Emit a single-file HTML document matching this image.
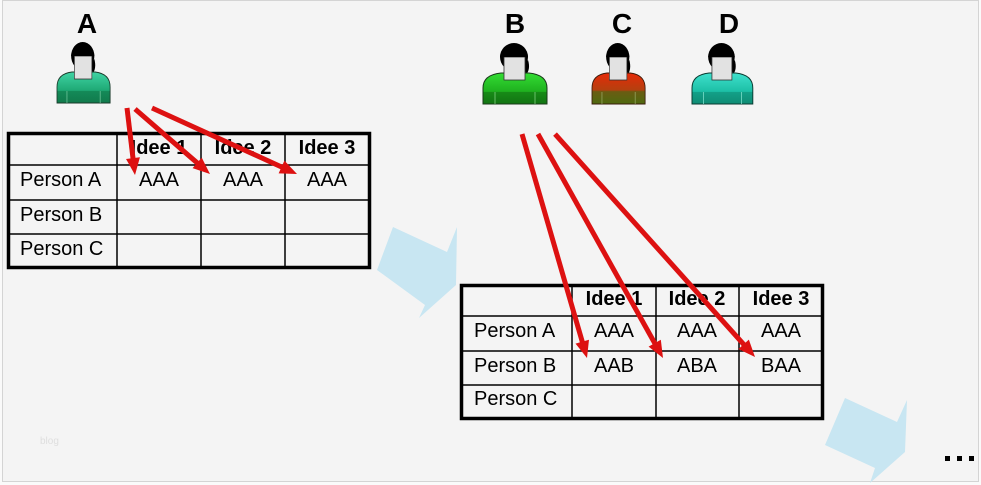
<!DOCTYPE html>
<html><head><meta charset="utf-8"><style>
html,body{margin:0;padding:0;background:#f4f4f4;}
svg{display:block;}
text{font-family:"Liberation Sans",Arial,sans-serif;}
</style></head><body>
<svg width="981" height="485" viewBox="0 0 981 485" xmlns="http://www.w3.org/2000/svg">
<defs>
  <linearGradient id="gA" x1="0" y1="0" x2="0" y2="1">
    <stop offset="0" stop-color="#40d4a4"/><stop offset="0.6" stop-color="#1ea874"/>
    <stop offset="0.62" stop-color="#148a58"/><stop offset="1" stop-color="#117a4c"/>
  </linearGradient>
  <linearGradient id="gB" x1="0" y1="0" x2="0" y2="1">
    <stop offset="0" stop-color="#33dd33"/><stop offset="0.6" stop-color="#1fb01f"/>
    <stop offset="0.62" stop-color="#178a17"/><stop offset="1" stop-color="#127412"/>
  </linearGradient>
  <linearGradient id="gC" x1="0" y1="0" x2="0" y2="1">
    <stop offset="0" stop-color="#e62a08"/><stop offset="0.55" stop-color="#b4400f"/>
    <stop offset="0.6" stop-color="#6a5c12"/><stop offset="1" stop-color="#4e6a10"/>
  </linearGradient>
  <linearGradient id="gD" x1="0" y1="0" x2="0" y2="1">
    <stop offset="0" stop-color="#3fe0cc"/><stop offset="0.6" stop-color="#1cbfa6"/>
    <stop offset="0.62" stop-color="#13a088"/><stop offset="1" stop-color="#0f8c74"/>
  </linearGradient>
</defs>

<rect x="0" y="0" width="981" height="485" fill="#fafafa"/>
<rect x="2.5" y="0.5" width="976" height="481" fill="#f4f4f4" stroke="#d4d4d4" stroke-width="1"/>

<!-- Letters -->
<g font-weight="bold" font-size="28" text-anchor="middle" fill="#000">
  <text x="87" y="33">A</text>
  <text x="515" y="33">B</text>
  <text x="622" y="33">C</text>
  <text x="729" y="33">D</text>
</g>

<!-- Person icons: local origin = body top-left, width 64 -->
<g id="pA" transform="translate(57,71) scale(0.83,1)">
  <path d="M45,-12 C47,-6 46,0 43,2 L40,-6 Z" fill="#000"/>
  <circle cx="31" cy="-15" r="14" fill="#000"/>
  <path d="M0,32 V16 C0,6 8,2 18,1 H46 C56,2 64,6 64,16 V32 Z" fill="url(#gA)" stroke="#1a3a2a" stroke-width="1"/>
  <line x1="12" y1="20" x2="12" y2="32" stroke="#7fd0a8" stroke-width="0.8"/>
  <line x1="52" y1="20" x2="52" y2="32" stroke="#7fd0a8" stroke-width="0.8"/>
  <rect x="21" y="-15" width="21" height="23" fill="#e2e2e2" stroke="#333" stroke-width="0.8"/>
  <path d="M17,-15 C18,-28 44,-28 45,-15 Z" fill="#000"/>
</g>
<g transform="translate(483,72) scale(1,1)">
  <path d="M45,-12 C47,-6 46,0 43,2 L40,-6 Z" fill="#000"/>
  <circle cx="31" cy="-15" r="14" fill="#000"/>
  <path d="M0,32 V16 C0,6 8,2 18,1 H46 C56,2 64,6 64,16 V32 Z" fill="url(#gB)" stroke="#1a3a1a" stroke-width="1"/>
  <line x1="12" y1="20" x2="12" y2="32" stroke="#7fd07f" stroke-width="0.8"/>
  <line x1="52" y1="20" x2="52" y2="32" stroke="#7fd07f" stroke-width="0.8"/>
  <rect x="21" y="-15" width="21" height="23" fill="#e2e2e2" stroke="#333" stroke-width="0.8"/>
  <path d="M17,-15 C18,-28 44,-28 45,-15 Z" fill="#000"/>
</g>
<g transform="translate(592,72) scale(0.83,1)">
  <path d="M45,-12 C47,-6 46,0 43,2 L40,-6 Z" fill="#000"/>
  <circle cx="31" cy="-15" r="14" fill="#000"/>
  <path d="M0,32 V16 C0,6 8,2 18,1 H46 C56,2 64,6 64,16 V32 Z" fill="url(#gC)" stroke="#3a1a0a" stroke-width="1"/>
  <line x1="12" y1="20" x2="12" y2="32" stroke="#a0b070" stroke-width="0.8"/>
  <line x1="52" y1="20" x2="52" y2="32" stroke="#a0b070" stroke-width="0.8"/>
  <rect x="21" y="-15" width="21" height="23" fill="#e2e2e2" stroke="#333" stroke-width="0.8"/>
  <path d="M17,-15 C18,-28 44,-28 45,-15 Z" fill="#000"/>
</g>
<g transform="translate(692,72) scale(0.95,1)">
  <path d="M45,-12 C47,-6 46,0 43,2 L40,-6 Z" fill="#000"/>
  <circle cx="31" cy="-15" r="14" fill="#000"/>
  <path d="M0,32 V16 C0,6 8,2 18,1 H46 C56,2 64,6 64,16 V32 Z" fill="url(#gD)" stroke="#0a3a30" stroke-width="1"/>
  <line x1="12" y1="20" x2="12" y2="32" stroke="#80e0cc" stroke-width="0.8"/>
  <line x1="52" y1="20" x2="52" y2="32" stroke="#80e0cc" stroke-width="0.8"/>
  <rect x="21" y="-15" width="21" height="23" fill="#e2e2e2" stroke="#333" stroke-width="0.8"/>
  <path d="M17,-15 C18,-28 44,-28 45,-15 Z" fill="#000"/>
</g>

<!-- Blue arrows -->
<polygon points="393,227 447,252 457,227 456,285 419,318 425,305 377,270" fill="#c8e6f2"/>
<polygon points="845,398 897,422 907,400 905,452 870,483 875,468 825,445" fill="#c8e6f2"/>

<!-- Table 1 -->
<g stroke="#000" fill="none">
  <line x1="117" y1="132" x2="117" y2="269" stroke-width="1.5"/>
  <line x1="201" y1="132" x2="201" y2="269" stroke-width="1.5"/>
  <line x1="285" y1="132" x2="285" y2="269" stroke-width="1.5"/>
  <line x1="7" y1="165" x2="371" y2="165" stroke-width="1.5"/>
  <line x1="7" y1="200" x2="371" y2="200" stroke-width="1.5"/>
  <line x1="7" y1="234" x2="371" y2="234" stroke-width="1.5"/>
  <rect x="8.5" y="133.5" width="361" height="134" stroke-width="3.5"/>
</g>
<g font-size="20" fill="#000">
  <text x="20" y="186">Person A</text>
  <text x="20" y="221">Person B</text>
  <text x="20" y="255">Person C</text>
  <g text-anchor="middle">
    <text x="159" y="186">AAA</text>
    <text x="243" y="186">AAA</text>
    <text x="327" y="186">AAA</text>
  </g>
  <g text-anchor="middle" font-weight="bold">
    <text x="159" y="154">Idee 1</text>
    <text x="243" y="154">Idee 2</text>
    <text x="327" y="154">Idee 3</text>
  </g>
</g>

<!-- Table 2 -->
<g stroke="#000" fill="none">
  <line x1="572" y1="284" x2="572" y2="420" stroke-width="1.5"/>
  <line x1="656" y1="284" x2="656" y2="420" stroke-width="1.5"/>
  <line x1="739" y1="284" x2="739" y2="420" stroke-width="1.5"/>
  <line x1="460" y1="316" x2="824" y2="316" stroke-width="1.5"/>
  <line x1="460" y1="351" x2="824" y2="351" stroke-width="1.5"/>
  <line x1="460" y1="385" x2="824" y2="385" stroke-width="1.5"/>
  <rect x="461.5" y="285.5" width="361" height="133" stroke-width="3.5"/>
</g>
<g font-size="20" fill="#000">
  <text x="474" y="337">Person A</text>
  <text x="474" y="372">Person B</text>
  <text x="474" y="405">Person C</text>
  <g text-anchor="middle">
    <text x="614" y="337">AAA</text>
    <text x="697" y="337">AAA</text>
    <text x="781" y="337">AAA</text>
    <text x="614" y="372">AAB</text>
    <text x="697" y="372">ABA</text>
    <text x="781" y="372">BAA</text>
  </g>
  <g text-anchor="middle" font-weight="bold">
    <text x="614" y="305">Idee 1</text>
    <text x="697" y="305">Idee 2</text>
    <text x="781" y="305">Idee 3</text>
  </g>
</g>

<!-- Red arrows -->
<g fill="#dd1111" stroke="#dd1111">
  <g transform="translate(135,175) rotate(83.19)"><line x1="-67.5" y1="0" x2="-10" y2="0" stroke-width="5"/><polygon points="0,0 -17,-7 -17,7" stroke="none"/></g>
  <g transform="translate(210,174) rotate(40.91)"><line x1="-99.2" y1="0" x2="-10" y2="0" stroke-width="5"/><polygon points="0,0 -17,-7 -17,7" stroke="none"/></g>
  <g transform="translate(297,174) rotate(24.47)"><line x1="-159.3" y1="0" x2="-10" y2="0" stroke-width="5"/><polygon points="0,0 -17,-7 -17,7" stroke="none"/></g>
  <g transform="translate(587,358) rotate(73.82)"><line x1="-233.2" y1="0" x2="-10" y2="0" stroke-width="5"/><polygon points="0,0 -17,-7 -17,7" stroke="none"/></g>
  <g transform="translate(663,358) rotate(60.83)"><line x1="-256.5" y1="0" x2="-10" y2="0" stroke-width="5"/><polygon points="0,0 -17,-7 -17,7" stroke="none"/></g>
  <g transform="translate(755,357) rotate(48.11)"><line x1="-299.5" y1="0" x2="-10" y2="0" stroke-width="5"/><polygon points="0,0 -17,-7 -17,7" stroke="none"/></g>
</g>

<!-- Ellipsis dots -->
<rect x="945" y="456" width="5" height="5" fill="#000"/>
<rect x="957" y="456" width="5" height="5" fill="#000"/>
<rect x="969" y="456" width="5" height="5" fill="#000"/>

<!-- watermark -->
<text x="40" y="444" font-size="10" fill="#dedede">blog</text>
</svg>
</body></html>
